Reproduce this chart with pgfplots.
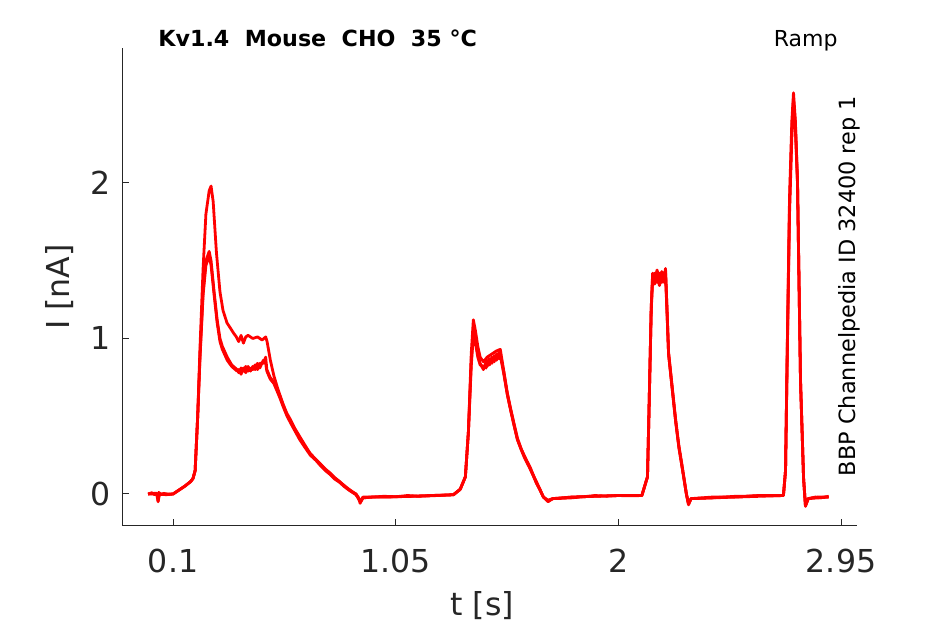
\documentclass[border=0pt]{standalone}
\usepackage{pgfplots}
\pgfplotsset{compat=1.18}
\usepackage{pgfplotstable}
\usepackage{fontspec}
\setmainfont{DejaVu Sans}
\definecolor{axgray}{RGB}{38,38,38}

\pgfplotstableread{
x y
-0.007 0.0
0.01 0.008
0.02 -0.004
0.034 0.0
0.036 -0.045
0.039 0.01
0.05 -0.005
0.06 0.004
0.08 -0.003
0.10 0.0
0.12 0.02
0.15 0.05
0.175 0.08
0.185 0.10
0.194 0.15
0.205 0.5
0.215 0.95
0.228 1.45
0.24 1.8
0.254 1.95
0.262 1.98
0.271 1.88
0.285 1.55
0.30 1.30
0.313 1.18
0.33 1.10
0.343 1.07
0.36 1.03
0.37 1.01
0.38 0.98
0.39 1.02
0.40 0.97
0.41 1.01
0.42 1.02
0.44 1.00
0.46 1.01
0.48 0.99
0.495 1.01
0.501 0.98
0.515 0.86
0.53 0.76
0.544 0.69
0.555 0.64
0.57 0.575
0.585 0.52
0.60 0.48
0.62 0.42
0.64 0.37
0.66 0.32
0.685 0.26
0.71 0.22
0.73 0.19
0.75 0.16
0.77 0.135
0.79 0.105
0.81 0.08
0.83 0.055
0.85 0.03
0.865 0.012
0.88 0.0
0.89 -0.02
0.898 -0.06
0.91 -0.025
0.95 -0.02
1.00 -0.015
1.05 -0.018
1.10 -0.01
1.15 -0.015
1.20 -0.01
1.25 -0.008
1.296 -0.005
1.325 0.03
1.347 0.11
1.36 0.4
1.372 0.9
1.381 1.12
1.39 1.05
1.40 0.95
1.41 0.88
1.424 0.85
1.44 0.88
1.46 0.90
1.48 0.92
1.496 0.93
1.51 0.80
1.526 0.65
1.54 0.55
1.555 0.45
1.569 0.36
1.585 0.29
1.60 0.24
1.624 0.17
1.64 0.11
1.65 0.08
1.665 0.03
1.68 -0.02
1.70 -0.05
1.72 -0.03
1.76 -0.028
1.80 -0.025
1.85 -0.018
1.90 -0.01
1.95 -0.014
2.00 -0.01
2.05 -0.012
2.10 -0.01
2.124 0.11
2.13 0.5
2.14 1.2
2.146 1.40
2.155 1.38
2.165 1.44
2.175 1.37
2.185 1.43
2.195 1.39
2.201 1.45
2.207 1.2
2.214 0.91
2.23 0.68
2.244 0.48
2.258 0.31
2.273 0.17
2.29 0.0
2.299 -0.07
2.31 -0.03
2.35 -0.028
2.40 -0.025
2.45 -0.02
2.50 -0.015
2.55 -0.014
2.60 -0.01
2.65 -0.012
2.704 -0.01
2.713 0.15
2.72 0.9
2.73 1.9
2.74 2.4
2.747 2.58
2.755 2.4
2.764 2.02
2.777 0.73
2.79 0.1
2.798 -0.08
2.81 -0.03
2.84 -0.02
2.86 -0.025
2.897 -0.015
}\traceA

\pgfplotstableread{
x y
-0.007 0.0
0.03 0.0
0.036 -0.05
0.042 0.0
0.07 -0.005
0.10 0.0
0.12 0.02
0.15 0.05
0.175 0.08
0.185 0.10
0.194 0.15
0.205 0.5
0.215 0.9
0.228 1.3
0.24 1.5
0.254 1.56
0.262 1.50
0.275 1.30
0.288 1.12
0.30 1.00
0.31 0.95
0.331 0.88
0.35 0.83
0.373 0.80
0.38 0.78
0.39 0.81
0.40 0.79
0.41 0.82
0.42 0.79
0.43 0.81
0.44 0.80
0.45 0.83
0.46 0.80
0.47 0.84
0.485 0.84
0.495 0.88
0.50 0.80
0.514 0.75
0.53 0.72
0.544 0.67
0.555 0.63
0.57 0.57
0.585 0.51
0.60 0.47
0.62 0.41
0.64 0.36
0.66 0.31
0.685 0.26
0.71 0.22
0.73 0.19
0.75 0.155
0.77 0.13
0.79 0.10
0.81 0.08
0.83 0.05
0.85 0.03
0.88 0.0
0.898 -0.05
0.91 -0.025
0.95 -0.02
1.00 -0.02
1.10 -0.015
1.20 -0.01
1.296 -0.005
1.325 0.03
1.347 0.11
1.36 0.4
1.372 0.85
1.381 1.06
1.39 1.00
1.40 0.90
1.41 0.84
1.424 0.80
1.435 0.85
1.44 0.82
1.45 0.87
1.46 0.84
1.47 0.89
1.48 0.86
1.49 0.91
1.496 0.90
1.51 0.79
1.526 0.64
1.54 0.54
1.555 0.44
1.569 0.35
1.585 0.29
1.60 0.24
1.624 0.16
1.64 0.11
1.65 0.07
1.665 0.03
1.68 -0.02
1.70 -0.045
1.72 -0.03
1.80 -0.02
1.90 -0.015
2.00 -0.01
2.10 -0.01
2.124 0.11
2.13 0.5
2.14 1.2
2.146 1.42
2.155 1.35
2.165 1.41
2.175 1.34
2.185 1.40
2.195 1.36
2.201 1.43
2.207 1.2
2.214 0.90
2.23 0.67
2.244 0.47
2.258 0.30
2.273 0.16
2.29 0.0
2.299 -0.065
2.31 -0.03
2.40 -0.02
2.50 -0.02
2.60 -0.01
2.704 -0.01
2.713 0.15
2.72 0.85
2.73 1.8
2.74 2.3
2.747 2.50
2.755 2.35
2.764 2.00
2.777 0.72
2.79 0.1
2.798 -0.075
2.81 -0.03
2.85 -0.02
2.897 -0.02
}\traceB

\pgfplotstableread{
x y
-0.007 0.0
0.03 0.005
0.036 -0.03
0.042 0.0
0.10 0.0
0.12 0.02
0.15 0.05
0.175 0.08
0.185 0.10
0.194 0.15
0.205 0.5
0.215 0.88
0.228 1.28
0.24 1.47
0.254 1.53
0.262 1.47
0.275 1.28
0.288 1.10
0.30 0.98
0.31 0.93
0.331 0.86
0.35 0.82
0.373 0.79
0.38 0.80
0.39 0.77
0.40 0.81
0.41 0.78
0.42 0.82
0.43 0.79
0.44 0.82
0.45 0.80
0.46 0.84
0.47 0.81
0.485 0.86
0.495 0.84
0.50 0.79
0.514 0.74
0.53 0.71
0.544 0.66
0.555 0.62
0.57 0.56
0.585 0.505
0.60 0.46
0.62 0.405
0.64 0.35
0.66 0.305
0.685 0.25
0.71 0.215
0.73 0.18
0.75 0.15
0.77 0.125
0.79 0.095
0.81 0.075
0.83 0.048
0.85 0.025
0.88 -0.005
0.898 -0.045
0.91 -0.02
1.00 -0.02
1.20 -0.012
1.296 -0.005
1.325 0.03
1.347 0.11
1.36 0.4
1.372 0.82
1.381 1.02
1.39 0.97
1.40 0.88
1.41 0.83
1.424 0.82
1.435 0.81
1.44 0.86
1.45 0.83
1.46 0.88
1.47 0.85
1.48 0.90
1.49 0.87
1.496 0.89
1.51 0.78
1.526 0.64
1.54 0.54
1.555 0.44
1.569 0.35
1.585 0.285
1.60 0.23
1.624 0.16
1.64 0.105
1.65 0.07
1.665 0.025
1.68 -0.02
1.70 -0.04
1.72 -0.03
1.80 -0.02
2.00 -0.01
2.10 -0.01
2.124 0.11
2.13 0.5
2.14 1.18
2.146 1.38
2.155 1.42
2.165 1.36
2.175 1.42
2.185 1.36
2.195 1.41
2.201 1.40
2.207 1.18
2.214 0.90
2.23 0.67
2.244 0.47
2.258 0.30
2.273 0.16
2.29 0.0
2.299 -0.06
2.31 -0.03
2.50 -0.02
2.704 -0.01
2.713 0.15
2.72 0.88
2.73 1.85
2.74 2.35
2.747 2.54
2.755 2.38
2.764 2.01
2.777 0.72
2.79 0.1
2.798 -0.07
2.81 -0.03
2.897 -0.02
}\traceC

\begin{document}
\begin{tikzpicture}
\path[use as bounding box] (0,0) rectangle (472.5pt,312pt);
\begin{axis}[
  at={(61pt,49pt)}, anchor=south west,
  scale only axis, width=367.5pt, height=239pt,
  xmin=-0.118, xmax=3.018, ymin=-0.206, ymax=2.868,
  axis x line*=bottom, axis y line*=left,
  axis line style={axgray, line width=0.5pt, -},
  tick style={axgray, line width=0.5pt},
  tick align=inside, major tick length=3.5pt,
  xtick={0.1,1.05,2,2.95}, ytick={0,1,2},
  /pgf/number format/assume math mode=true,
  xticklabel style={font=\fontsize{15.8}{18}\selectfont, text=axgray, yshift=-8pt},
  yticklabel style={font=\fontsize{15.8}{18}\selectfont, text=axgray, xshift=-2pt},
  xlabel={t [s]}, ylabel={I [nA]},
  label style={font=\fontsize{15.8}{18}\selectfont, text=axgray},
  xlabel style={at={(rel axis cs:0.49,0)}, anchor=center, yshift=-40pt},
  ylabel style={at={(rel axis cs:0,0.5)}, anchor=center, yshift=31pt},
  clip=false,
]
\addplot[red, line width=1.4pt, line join=round] table {\traceA};
\addplot[red, line width=1.4pt, line join=round] table {\traceB};
\addplot[red, line width=1.4pt, line join=round] table {\traceC};
\node[anchor=base west, inner sep=0pt, font=\fontsize{11.1}{13}\selectfont\bfseries] at (rel axis cs:0.049,1.004) {Kv1.4\ \ Mouse\ \ CHO\ \ 35 °C};
\node[anchor=base east, inner sep=0pt, font=\fontsize{11}{13}\selectfont] at (rel axis cs:0.974,1.004) {Ramp};
\node[rotate=90, anchor=center, inner sep=0pt, font=\fontsize{11.2}{13}\selectfont] at (rel axis cs:0.990,0.502) {BBP Channelpedia ID 32400 rep 1};
\end{axis}
\end{tikzpicture}
\end{document}
